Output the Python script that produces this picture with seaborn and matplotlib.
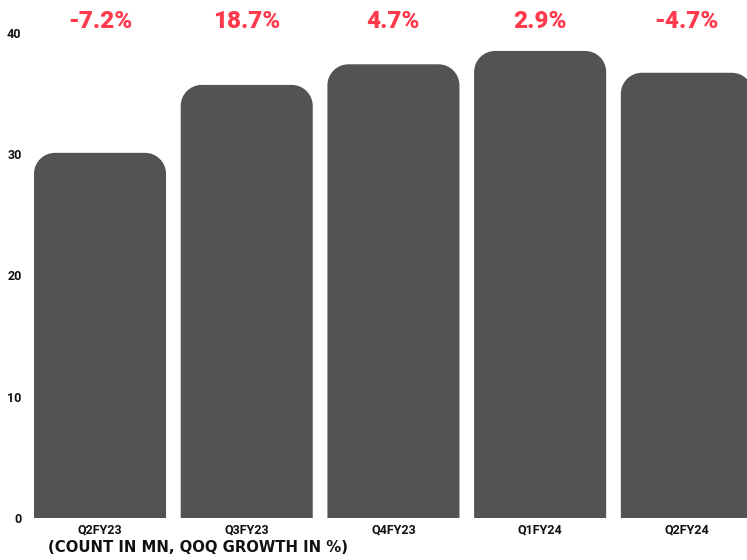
import matplotlib
matplotlib.use("Agg")
import matplotlib.pyplot as plt
import seaborn as sns
import pandas as pd
from matplotlib.path import Path
from matplotlib.patches import PathPatch

quarters = ["Q2FY23", "Q3FY23", "Q4FY23", "Q1FY24", "Q2FY24"]
counts = [30.1, 35.7, 37.4, 38.5, 36.7]
growth_labels = ["-7.2%", "18.7%", "4.7%", "2.9%", "-4.7%"]
y_ticks = [0, 10, 20, 30, 40]
caption = "(COUNT IN MN, QOQ GROWTH IN %)"

sns.set_theme(style="white")
plt.rcParams["font.family"] = ["Roboto", "DejaVu Sans"]

W, H = 747, 560
fig = plt.figure(figsize=(W / 100, H / 100), dpi=100)
fig.patch.set_facecolor("white")
ax = fig.add_axes([34 / W, 42 / H, (W - 34) / W, 518 / H])

df = pd.DataFrame({"quarter": quarters, "count": counts})
sns.barplot(data=df, x="quarter", y="count", color="#535353", width=0.9,
            saturation=1, ax=ax)

ax.set_xlim(-0.45, 4.41)
ax.set_ylim(0, 42.7)

# rounded top corners
px_per_x = (W - 34) / (4.41 + 0.45)
px_per_y = 518 / 42.7
r_px = 21
rx = r_px / px_per_x
ry = r_px / px_per_y
k = 0.5523
for p in list(ax.patches):
    x0, y0 = p.get_x(), p.get_y()
    w, h = p.get_width(), p.get_height()
    x1, y1 = x0 + w, y0 + h
    verts = [
        (x0, y0), (x0, y1 - ry),
        (x0, y1 - ry + k * ry), (x0 + rx - k * rx, y1), (x0 + rx, y1),
        (x1 - rx, y1),
        (x1 - rx + k * rx, y1), (x1, y1 - ry + k * ry), (x1, y1 - ry),
        (x1, y0), (x0, y0),
    ]
    codes = [Path.MOVETO, Path.LINETO,
             Path.CURVE4, Path.CURVE4, Path.CURVE4,
             Path.LINETO,
             Path.CURVE4, Path.CURVE4, Path.CURVE4,
             Path.LINETO, Path.CLOSEPOLY]
    ax.add_patch(PathPatch(Path(verts, codes), facecolor=p.get_facecolor(),
                           edgecolor="none", clip_on=True))
    p.set_visible(False)

for i, lab in enumerate(growth_labels):
    ax.text(i, 40.9, lab, ha="center", va="center", color="#FF3A4C",
            fontsize=17.5, fontweight="black")

for s in ax.spines.values():
    s.set_visible(False)
ax.set_xlabel("")
ax.set_ylabel("")
ax.set_yticks(y_ticks)
ax.set_yticklabels([str(t) for t in y_ticks], fontsize=9, fontweight="bold",
                   color="#111111")
ax.tick_params(axis="y", length=0, pad=9)
ax.tick_params(axis="x", length=0, pad=4)
for t in ax.get_xticklabels():
    t.set_fontsize(9)
    t.set_fontweight("bold")
    t.set_color("#111111")
ax.grid(False)
ax.set_facecolor("white")

fig.text(198.5 / W, 1 - 548 / H, caption, ha="center", va="center",
         fontsize=10.7, fontweight="bold", color="#111111",
         family=["DejaVu Sans"])

fig.savefig("out.png", dpi=100, facecolor="white")
